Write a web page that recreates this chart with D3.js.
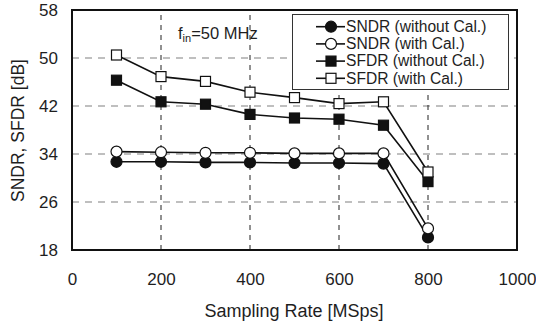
<!DOCTYPE html>
<html>
<head>
<meta charset="utf-8">
<script src="https://cdn.jsdelivr.net/npm/d3@7"></script>
<style>
  body { margin: 0; background: #fff; }
  text { font-family: "Liberation Sans", Arial, sans-serif; fill: #1e1e1e; }
</style>
</head>
<body>
<div id="chart"></div>
<script>
// sampling rates (MSps)
let rates = [100, 200, 300, 400, 500, 600, 700, 800];

let sndrNoCal = [32.7, 32.7, 32.6, 32.6, 32.5, 32.5, 32.4, 20.1];
let sndrCal   = [34.4, 34.3, 34.2, 34.2, 34.1, 34.1, 34.1, 21.6];
let sfdrNoCal = [46.3, 42.7, 42.3, 40.6, 40.0, 39.8, 38.8, 29.4];
let sfdrCal   = [50.5, 46.9, 46.1, 44.3, 43.4, 42.4, 42.7, 31.0];

let seriesNames = ["SNDR (without Cal.)", "SNDR (with Cal.)", "SFDR (without Cal.)", "SFDR (with Cal.)"];
let xTicks = [0, 200, 400, 600, 800, 1000];
let yTicks = [18, 26, 34, 42, 50, 58];

let series = [
    { name: seriesNames[0], values: sndrNoCal, shape: "circle", fill: "#111" },
    { name: seriesNames[1], values: sndrCal,   shape: "circle", fill: "#fff" },
    { name: seriesNames[2], values: sfdrNoCal, shape: "square", fill: "#111" },
    { name: seriesNames[3], values: sfdrCal,   shape: "square", fill: "#fff" }
];

let width = 536, height = 324;
let margin = { left: 72, right: 19, top: 10, bottom: 74 };

let svg = d3.select("#chart").append("svg")
    .attr("width", width)
    .attr("height", height);

let x = d3.scaleLinear().domain([0, 1000]).range([margin.left, width - margin.right]);
let y = d3.scaleLinear().domain([18, 58]).range([height - margin.bottom, margin.top]);

// grid lines
svg.append("g").selectAll("line")
    .data(yTicks.slice(1, -1))
    .enter().append("line")
    .attr("x1", x(0)).attr("x2", x(1000))
    .attr("y1", d => y(d)).attr("y2", d => y(d))
    .attr("stroke", "#808080").attr("stroke-width", 1.2)
    .attr("stroke-dasharray", "7,6");

svg.append("g").selectAll("line")
    .data(xTicks.slice(1, -1))
    .enter().append("line")
    .attr("x1", d => x(d)).attr("x2", d => x(d))
    .attr("y1", y(18)).attr("y2", y(58))
    .attr("stroke", "#222").attr("stroke-width", 1)
    .attr("stroke-dasharray", "5,5");

// axes, labels only
let xAxis = svg.append("g")
    .attr("transform", "translate(0," + (height - margin.bottom) + ")")
    .call(d3.axisBottom(x).tickValues(xTicks).tickFormat(d3.format("d")).tickSize(0).tickPadding(23));
let yAxis = svg.append("g")
    .attr("transform", "translate(" + margin.left + ",0)")
    .call(d3.axisLeft(y).tickValues(yTicks).tickSize(0).tickPadding(14));
[xAxis, yAxis].forEach(a => {
    a.select(".domain").remove();
    a.selectAll("text").attr("font-size", 17).attr("fill", "#1e1e1e")
        .style("font-family", "Liberation Sans, Arial, sans-serif");
});

// frame
svg.append("rect")
    .attr("x", x(0)).attr("y", y(58))
    .attr("width", x(1000) - x(0)).attr("height", y(18) - y(58))
    .attr("fill", "none").attr("stroke", "#111").attr("stroke-width", 2);

let line = d3.line()
    .x((d, i) => x(rates[i]))
    .y(d => y(d));

function drawMarker(g, shape, fill, cx, cy) {
    if (shape === "circle") {
        g.append("circle").attr("cx", cx).attr("cy", cy).attr("r", 5.5)
            .attr("fill", fill).attr("stroke", "#111").attr("stroke-width", 1.2);
    } else {
        g.append("rect").attr("x", cx - 5).attr("y", cy - 5)
            .attr("width", 10).attr("height", 10)
            .attr("fill", fill).attr("stroke", "#111").attr("stroke-width", 1.2);
    }
}

// lines first, markers on top
series.forEach(s => {
    svg.append("path")
        .datum(s.values)
        .attr("d", line)
        .attr("fill", "none")
        .attr("stroke", "#111")
        .attr("stroke-width", 1.6);
});
series.forEach(s => {
    let g = svg.append("g");
    s.values.forEach((v, i) => drawMarker(g, s.shape, s.fill, x(rates[i]), y(v)));
});

// legend
let lg = svg.append("g");
lg.append("rect")
    .attr("x", 292.5).attr("y", 14.5).attr("width", 216).attr("height", 75)
    .attr("fill", "#fff").attr("stroke", "#333").attr("stroke-width", 1);
series.forEach((s, i) => {
    let ly = 26.7 + i * 17.2;
    lg.append("line").attr("x1", 316).attr("x2", 345).attr("y1", ly).attr("y2", ly)
        .attr("stroke", "#111").attr("stroke-width", 1.6);
    drawMarker(lg, s.shape, s.fill, 331, ly);
    lg.append("text").attr("x", 346).attr("y", ly + 5.3)
        .attr("font-size", 15.6).text(s.name);
});

// f_in annotation
let ft = svg.append("text").attr("x", 178).attr("y", 39).attr("font-size", 16.5);
ft.append("tspan").text("f");
ft.append("tspan").attr("font-size", 11).attr("dy", 3).text("in");
ft.append("tspan").attr("dy", -3).text("=50 MHz");

// axis titles
svg.append("text")
    .attr("x", 294).attr("y", 317)
    .attr("text-anchor", "middle").attr("font-size", 18)
    .text("Sampling Rate [MSps]");
svg.append("text")
    .attr("transform", "translate(24,130.5) rotate(-90)")
    .attr("text-anchor", "middle").attr("font-size", 17.5)
    .text("SNDR, SFDR [dB]");
</script>
</body>
</html>
